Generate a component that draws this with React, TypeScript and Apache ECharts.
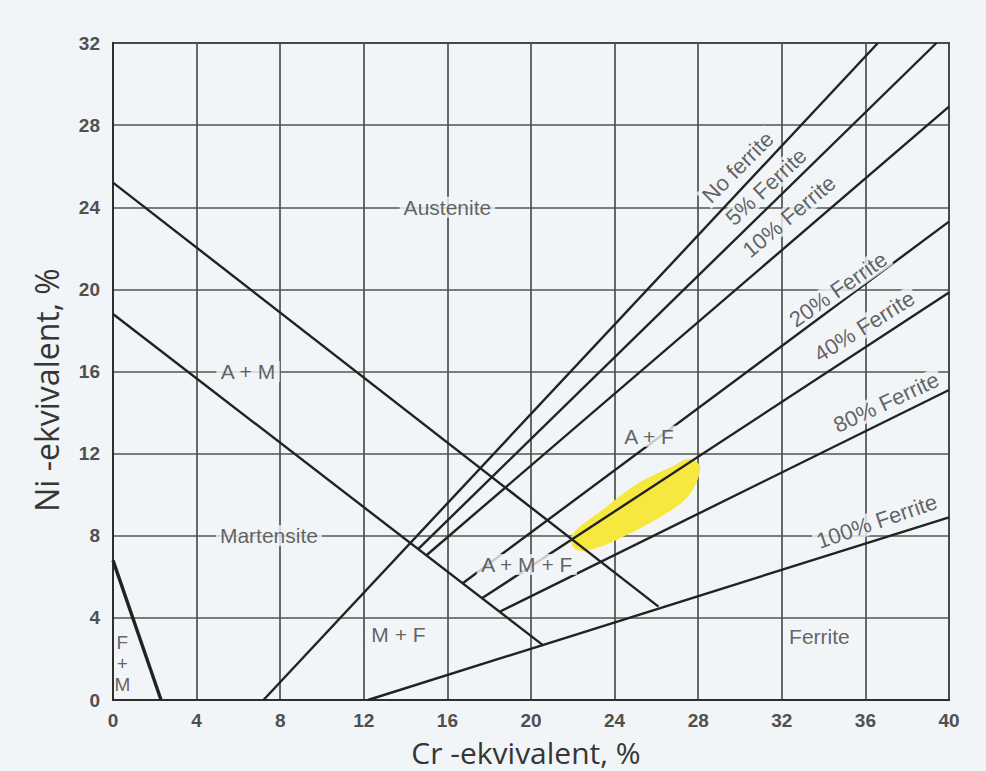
import { useEffect, useRef } from "react";
import * as echarts from "echarts";

// ---- data (Cr-equivalent %, Ni-equivalent %) ----
const xMin = 0, xMax = 40, yMin = 0, yMax = 32, tickStep = 4;

const austeniteMartensiteLine = [[0, 25.2], [26.1, 4.55]];
const martensiteLine = [[0, 18.8], [20.6, 2.65]];
const ferriteMartensiteLine = [[0, 6.8], [2.3, 0]];
const noFerriteLine = [[7.2, 0], [36.6, 32]];
const ferrite5Line = [[14.6, 7.35], [39.4, 32]];
const ferrite10Line = [[15.0, 7.05], [40, 28.9]];
const ferrite20Line = [[16.75, 5.7], [40, 23.3]];
const ferrite40Line = [[17.65, 4.95], [40, 19.85]];
const ferrite80Line = [[18.5, 4.3], [40, 15.1]];
const ferrite100Line = [[12.2, 0], [40, 8.9]];

const highlightOutline = [
  [21.9, 7.95], [23.6, 9.4], [25.2, 10.6], [26.8, 11.4], [27.6, 11.75],
  [28.1, 11.3], [27.5, 9.9], [26.0, 8.8], [24.4, 7.95], [23.15, 7.4], [22.2, 7.3],
];

const regionNames = ["Austenite", "A + M", "Martensite", "M + F", "Ferrite", "A + M + F", "A + F"];
const regionX = [16, 6.46, 7.46, 13.66, 33.8, 19.8, 25.65];
const regionY = [24, 16, 8, 3.17, 3.07, 6.6, 12.85];

const ferriteNames = ["No ferrite", "5% Ferrite", "10% Ferrite", "20% Ferrite", "40% Ferrite", "80% Ferrite", "100% Ferrite"];
const ferriteLabelX = [29.9, 31.25, 32.35, 34.7, 35.95, 37.0, 36.55];
const ferriteLabelY = [25.95, 25.0, 23.55, 20.0, 18.2, 14.5, 8.7];
const ferriteLabelAngle = [45, 43, 40, 35, 32, 25, 19];

const fmLabel = "F\n+\nM";
const fmLabelPos = [0.45, 1.8];

const xAxisTitle = "Cr -ekvivalent, %";
const yAxisTitle = "Ni -ekvivalent, %";

const BG = "#f1f5f7";
const INK = "#222222";
const TXT = "#3c3c3c";
const SANS = "'Liberation Sans', Arial, sans-serif";

export default function App() {
  const ref = useRef<HTMLDivElement>(null);

  useEffect(() => {
    if (!ref.current) return;
    const chart = echarts.init(ref.current, undefined, { renderer: "svg" });

    const phaseLines = [
      { d: austeniteMartensiteLine, w: 2.4 },
      { d: martensiteLine, w: 2.4 },
      { d: ferriteMartensiteLine, w: 3.4 },
      { d: noFerriteLine, w: 2.4 },
      { d: ferrite5Line, w: 2.4 },
      { d: ferrite10Line, w: 2.4 },
      { d: ferrite20Line, w: 2.4 },
      { d: ferrite40Line, w: 2.4 },
      { d: ferrite80Line, w: 2.4 },
      { d: ferrite100Line, w: 2.4 },
    ];

    const labelBase = {
      show: true,
      position: "inside",
      color: TXT,
      fontFamily: SANS,
      fontSize: 21,
      backgroundColor: BG,
      padding: [0, 4],
    };

    const labelData: any[] = [];
    regionNames.forEach((n, i) => {
      labelData.push({ name: n, value: [regionX[i], regionY[i]], label: { ...labelBase, formatter: n } });
    });
    ferriteNames.forEach((n, i) => {
      labelData.push({
        name: n,
        value: [ferriteLabelX[i], ferriteLabelY[i]],
        label: { ...labelBase, formatter: n, rotate: ferriteLabelAngle[i], fontSize: 22, padding: [0, 3] },
      });
    });
    labelData.push({
      name: "FM",
      value: fmLabelPos,
      label: { ...labelBase, formatter: fmLabel, fontSize: 19, lineHeight: 21, backgroundColor: "transparent" },
    });

    chart.setOption({
      animation: false,
      backgroundColor: BG,
      grid: { left: 113, right: 37, top: 43, bottom: 71, show: true, borderColor: "#2e2e2e", borderWidth: 2 },
      xAxis: {
        type: "value",
        min: xMin,
        max: xMax,
        interval: tickStep,
        axisLine: { show: true, lineStyle: { color: "#2e2e2e", width: 2 } },
        axisTick: { show: false },
        axisLabel: { color: "#505050", fontSize: 19, fontWeight: "bold", fontFamily: SANS, margin: 11, lineHeight: 19 },
        splitLine: { show: true, lineStyle: { color: "#4f4f4f", width: 1.7 } },
      },
      yAxis: {
        type: "value",
        min: yMin,
        max: yMax,
        interval: tickStep,
        axisLine: { show: true, lineStyle: { color: "#2e2e2e", width: 2 } },
        axisTick: { show: false },
        axisLabel: { color: "#505050", fontSize: 19, fontWeight: "bold", fontFamily: SANS, margin: 13 },
        splitLine: { show: true, lineStyle: { color: "#55554c", width: 1.7 } },
      },
      graphic: [
        {
          type: "text",
          x: 526,
          y: 752,
          style: { text: xAxisTitle, align: "center", verticalAlign: "middle", fill: "#363636", font: "30px 'Open Sans', sans-serif", lineHeight: 30 },
        },
        {
          type: "text",
          x: 46,
          y: 390,
          rotation: Math.PI / 2,
          style: { text: yAxisTitle, align: "center", verticalAlign: "middle", fill: "#363636", font: "32px 'Open Sans', sans-serif" },
        },
      ],
      series: [
        {
          type: "custom",
          silent: true,
          z: 2,
          data: [highlightOutline[0]],
          renderItem: (_p: any, api: any) => ({
            type: "polygon",
            shape: { points: highlightOutline.map((p) => api.coord(p)), smooth: 0.35 },
            style: { fill: "#f6e83e" },
          }),
        },
        ...phaseLines.map((l) => ({
          type: "line",
          data: l.d,
          silent: true,
          symbol: "none",
          showSymbol: false,
          z: 3,
          lineStyle: { color: INK, width: l.w },
        })),
        {
          type: "scatter",
          silent: true,
          z: 5,
          symbolSize: 1,
          itemStyle: { color: "transparent" },
          data: labelData,
        },
      ],
    });

    return () => chart.dispose();
  }, []);

  return <div ref={ref} style={{ position: "fixed", left: 0, top: 0, width: 986, height: 771 }} />;
}
